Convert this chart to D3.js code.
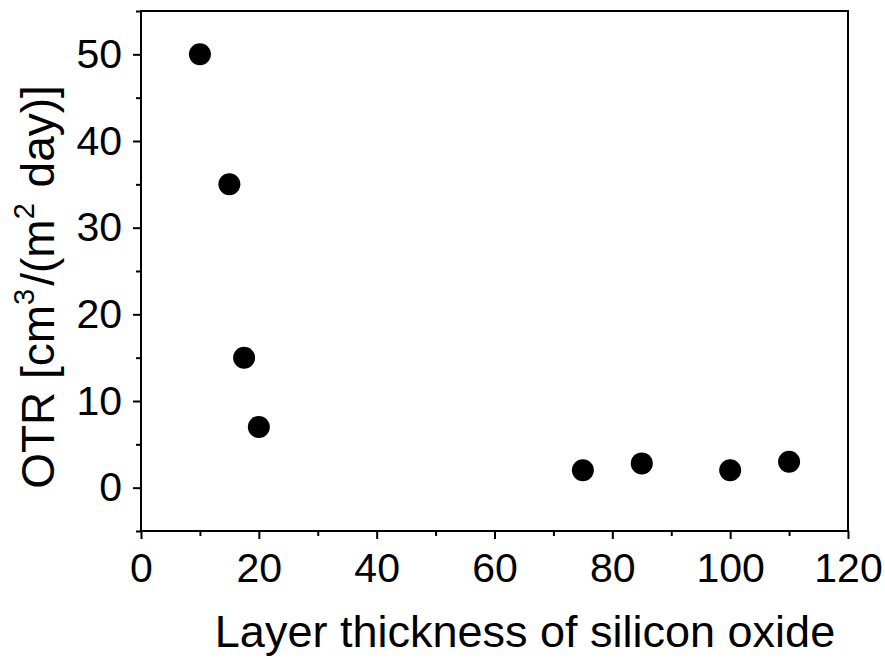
<!DOCTYPE html>
<html>
<head>
<meta charset="utf-8">
<script src="https://cdn.jsdelivr.net/npm/d3@7"></script>
<style>
  body { margin: 0; background: #fff; }
  svg { display: block; }
  text { font-family: "Liberation Sans", Arial, sans-serif; fill: #000; }
</style>
</head>
<body>
<svg id="chart" width="885" height="659"></svg>
<script>
// Oxygen transmission rate vs. silicon oxide layer thickness
const thickness = [10, 15, 17.5, 20, 75, 85, 100, 110];
const otr = [50, 35, 15, 7, 2, 2.8, 2, 3];
const xTicks = [0, 20, 40, 60, 80, 100, 120];
const yTicks = [0, 10, 20, 30, 40, 50];

const width = 885, height = 659;
const margin = { left: 141, right: 37, top: 11, bottom: 128 };
const svg = d3.select("#chart");

const x = d3.scaleLinear().domain([0, 120]).range([margin.left, width - margin.right]);
const y = d3.scaleLinear().domain([-5, 55]).range([height - margin.bottom, margin.top]);

// frame
svg.append("rect")
  .attr("x", x(0)).attr("y", y(55))
  .attr("width", x(120) - x(0)).attr("height", y(-5) - y(55))
  .attr("fill", "none").attr("stroke", "#000").attr("stroke-width", 2);

// x axis: major + minor ticks
const xAxis = svg.append("g").attr("transform", `translate(0,${y(-5)})`);
xAxis.call(d3.axisBottom(x).tickValues(xTicks).tickSize(8).tickPadding(14).tickFormat(d3.format("d")));
xAxis.append("g").call(d3.axisBottom(x).tickValues(d3.range(10, 120, 20)).tickSize(5).tickFormat(""));
xAxis.selectAll(".domain").remove();
xAxis.selectAll("line").attr("stroke", "#000").attr("stroke-width", 2);
xAxis.selectAll("text").style("font-size", "41px").style("font-family", "'Liberation Sans', Arial, sans-serif").attr("fill", "#000");

// y axis: major + minor ticks
const yAxis = svg.append("g").attr("transform", `translate(${x(0)},0)`);
yAxis.call(d3.axisLeft(y).tickValues(yTicks).tickSize(8).tickPadding(11).tickFormat(d3.format("d")));
yAxis.append("g").call(d3.axisLeft(y).tickValues(d3.range(-5, 56, 10)).tickSize(5).tickFormat(""));
yAxis.selectAll(".domain").remove();
yAxis.selectAll("line").attr("stroke", "#000").attr("stroke-width", 2);
yAxis.selectAll("text").style("font-size", "41px").style("font-family", "'Liberation Sans', Arial, sans-serif").attr("fill", "#000");

// points
svg.append("g").selectAll("circle")
  .data(thickness.map((t, i) => ({ t, v: otr[i] })))
  .join("circle")
  .attr("cx", d => x(d.t))
  .attr("cy", d => y(d.v))
  .attr("r", 11)
  .attr("fill", "#000");

// axis titles
svg.append("text")
  .attr("x", 525).attr("y", 647)
  .attr("text-anchor", "middle")
  .style("font-size", "45px")
  .text("Layer thickness of silicon oxide");

const yTitle = svg.append("text")
  .attr("transform", `translate(54,287) rotate(-90)`)
  .attr("text-anchor", "middle")
  .style("font-size", "46px");
yTitle.append("tspan").text("OTR [cm");
yTitle.append("tspan").attr("dy", -20).style("font-size", "29px").text("3");
yTitle.append("tspan").attr("dy", 20).attr("dx", 3).text("/(m");
yTitle.append("tspan").attr("dy", -20).style("font-size", "29px").text("2");
yTitle.append("tspan").attr("dy", 20).attr("dx", 3).text(" day)]");
</script>
</body>
</html>
